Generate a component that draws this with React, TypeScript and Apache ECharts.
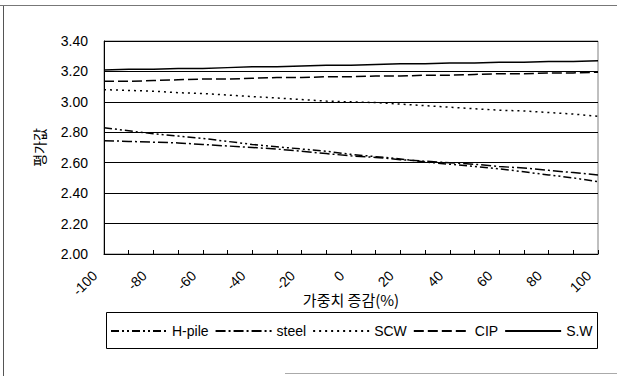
import React, { useEffect, useRef } from 'react';
import * as echarts from 'echarts';

const categories = ['-100', '-90', '-80', '-70', '-60', '-50', '-40', '-30', '-20', '-10', '0', '10', '20', '30', '40', '50', '60', '70', '80', '90', '100'];

const hPile = [2.83, 2.81, 2.79, 2.775, 2.76, 2.74, 2.72, 2.705, 2.69, 2.675, 2.655, 2.64, 2.625, 2.605, 2.59, 2.575, 2.56, 2.54, 2.52, 2.5, 2.475];
const steel = [2.745, 2.74, 2.735, 2.73, 2.72, 2.71, 2.7, 2.69, 2.675, 2.66, 2.645, 2.635, 2.62, 2.61, 2.6, 2.59, 2.575, 2.565, 2.55, 2.535, 2.52];
const scw = [3.08, 3.075, 3.07, 3.06, 3.055, 3.045, 3.035, 3.025, 3.015, 3.005, 3.0, 2.995, 2.985, 2.975, 2.965, 2.955, 2.945, 2.94, 2.93, 2.92, 2.905];
const cip = [3.135, 3.135, 3.14, 3.145, 3.15, 3.15, 3.155, 3.16, 3.16, 3.165, 3.165, 3.17, 3.17, 3.175, 3.175, 3.18, 3.185, 3.185, 3.19, 3.19, 3.195];
const sw = [3.21, 3.215, 3.215, 3.22, 3.22, 3.225, 3.23, 3.23, 3.235, 3.24, 3.24, 3.245, 3.25, 3.25, 3.255, 3.255, 3.26, 3.26, 3.265, 3.265, 3.27];

const seriesNames = ['H-pile', 'steel', 'SCW', 'CIP', 'S.W'];

const LATIN = '"Liberation Sans", Arial, sans-serif';
const CJK = '"Noto Sans CJK KR", "Liberation Sans", sans-serif';

function mk(name: string, data: number[], type: any) {
  return {
    name,
    type: 'line',
    data,
    symbol: 'none',
    showSymbol: false,
    silent: true,
    lineStyle: { color: '#000', width: 1.5, type },
    itemStyle: { color: '#000' },
  };
}

export default function App() {
  const ref = useRef<HTMLDivElement>(null);
  useEffect(() => {
    document.body.style.margin = '0';
    const chart = echarts.init(ref.current!, null, { renderer: 'svg' });
    chart.setOption({
      animation: false,
      backgroundColor: '#fff',
      grid: { left: 104, right: 19, top: 41, bottom: 122, show: true, borderColor: '#808080', borderWidth: 1 },
      legend: {
        left: 110,
        top: 324,
        itemWidth: 56,
        itemHeight: 14,
        itemGap: 6,
        padding: 0,
        data: seriesNames,
        itemStyle: { opacity: 0 },
        textStyle: { fontSize: 14, color: '#000', fontFamily: LATIN },
      },
      xAxis: {
        type: 'category',
        data: categories,
        boundaryGap: false,
        axisLine: { lineStyle: { color: '#000', width: 1 } },
        axisTick: { inside: true, length: 4, interval: 0, lineStyle: { color: '#000' } },
        axisLabel: { interval: 1, rotate: 45, margin: 10, padding: [0, 13, 0, 0], fontSize: 14, color: '#000', fontFamily: LATIN },
        splitLine: { show: false },
        name: '가중치 증감(%)',
        nameLocation: 'middle',
        nameGap: 38,
        nameMoveOverlap: false,
        nameTextStyle: { fontSize: 15, color: '#000', fontFamily: CJK },
      },
      yAxis: {
        type: 'value',
        min: 2,
        max: 3.4,
        interval: 0.2,
        axisLine: { show: true, lineStyle: { color: '#000', width: 1 } },
        axisTick: { show: false },
        splitLine: { show: true, lineStyle: { color: '#000', width: 1 } },
        axisLabel: { formatter: (v: number) => v.toFixed(2), fontSize: 14, color: '#000', margin: 16, fontFamily: LATIN },
        name: '평가값',
        nameLocation: 'middle',
        nameGap: 58,
        nameMoveOverlap: false,
        nameTextStyle: { fontSize: 14, color: '#000', fontFamily: CJK },
      },
      series: [
        mk('H-pile', hPile, [8, 3, 2, 3, 2, 3]),
        mk('steel', steel, [10, 3, 2, 3]),
        mk('SCW', scw, [2, 4]),
        mk('CIP', cip, [10, 4]),
        mk('S.W', sw, 'solid'),
      ],
      graphic: [
        { type: 'line', silent: true, shape: { x1: 3.5, y1: 5, x2: 3.5, y2: 376 }, style: { stroke: '#555', lineWidth: 1 } },
        { type: 'line', silent: true, shape: { x1: 0, y1: 5.5, x2: 617, y2: 5.5 }, style: { stroke: '#777', lineWidth: 1 } },
        { type: 'line', silent: true, shape: { x1: 285, y1: 373.5, x2: 617, y2: 373.5 }, style: { stroke: '#aaa', lineWidth: 1 } },
        { type: 'rect', silent: true, shape: { x: 106.5, y: 312.5, width: 491, height: 36 }, style: { fill: 'none', stroke: '#000', lineWidth: 1 } },
      ],
    });
    return () => chart.dispose();
  }, []);
  return <div ref={ref} style={{ width: 617, height: 376, background: '#fff' }} />;
}
